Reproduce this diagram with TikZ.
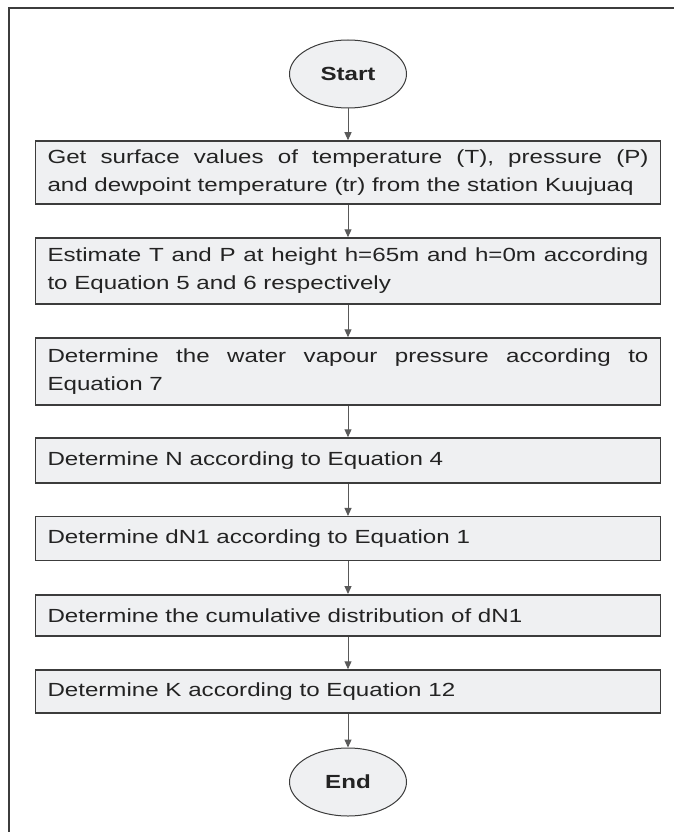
\documentclass[tikz,border=0pt]{standalone}
\usepackage{fontspec}
\setmainfont{Liberation Sans}[FakeStretch=1.27]
\usetikzlibrary{shapes.geometric,arrows.meta}
\definecolor{boxfill}{RGB}{239,240,242}
\definecolor{boxline}{RGB}{60,60,60}
\definecolor{txt}{RGB}{35,35,35}
\newcommand{\stepfont}{\fontsize{19}{28}\selectfont\hyphenpenalty=10000 \exhyphenpenalty=10000\relax}

\begin{document}
\begin{tikzpicture}[x=1pt,y=1pt,
	stepbox/.style={draw=boxline,line width=1.5pt,fill=boxfill,text=txt,
		text width=601pt,inner xsep=12pt,inner ysep=0pt,align=justify,font=\stepfont},
	term/.style={ellipse,draw=boxline,line width=1pt,fill=boxfill,text=txt,
		minimum width=117pt,minimum height=68pt,inner sep=0pt,
		font=\fontsize{19}{23}\selectfont\bfseries},
	link/.style={draw=gray!70!black,line width=1pt,-{Triangle[length=8pt,width=7pt]}}]

	\useasboundingbox (0,0) rectangle (674,-832);
	\draw[line width=2pt,boxline] (9,-832) -- (9,-8) -- (674,-8);

	\node[term] (start) at (348,-74) {Start};

	\node[stepbox,minimum height=63pt] (surf) at (348,-172.5)
		{Get surface values of temperature (T), pressure (P)\linebreak and dewpoint temperature (tr) from the station Kuujuaq};
	\node[stepbox,minimum height=66pt] (height) at (348,-271)
		{Estimate T and P at height h=65m and h=0m according to Equation 5 and 6 respectively};
	\node[stepbox,minimum height=67pt] (vapour) at (348,-371.5)
		{Determine the water vapour pressure according to Equation 7};
	\node[stepbox,minimum height=45pt] (refr) at (348,-460.5)
		{Determine N according to Equation 4};
	\node[stepbox,minimum height=44pt] (grad) at (348,-538.7)
		{Determine dN1 according to Equation 1};
	\node[stepbox,minimum height=41pt] (cumul) at (348,-615.3)
		{Determine the cumulative distribution of dN1};
	\node[stepbox,minimum height=43pt] (kfac) at (348,-691.5)
		{Determine K according to Equation 12};

	\node[term] (end) at (348,-782) {End};

	\draw[link] (start) -- (surf);
	\draw[link] (surf) -- (height);
	\draw[link] (height) -- (vapour);
	\draw[link] (vapour) -- (refr);
	\draw[link] (refr) -- (grad);
	\draw[link] (grad) -- (cumul);
	\draw[link] (cumul) -- (kfac);
	\draw[link] (kfac) -- (end);

\end{tikzpicture}
\end{document}
